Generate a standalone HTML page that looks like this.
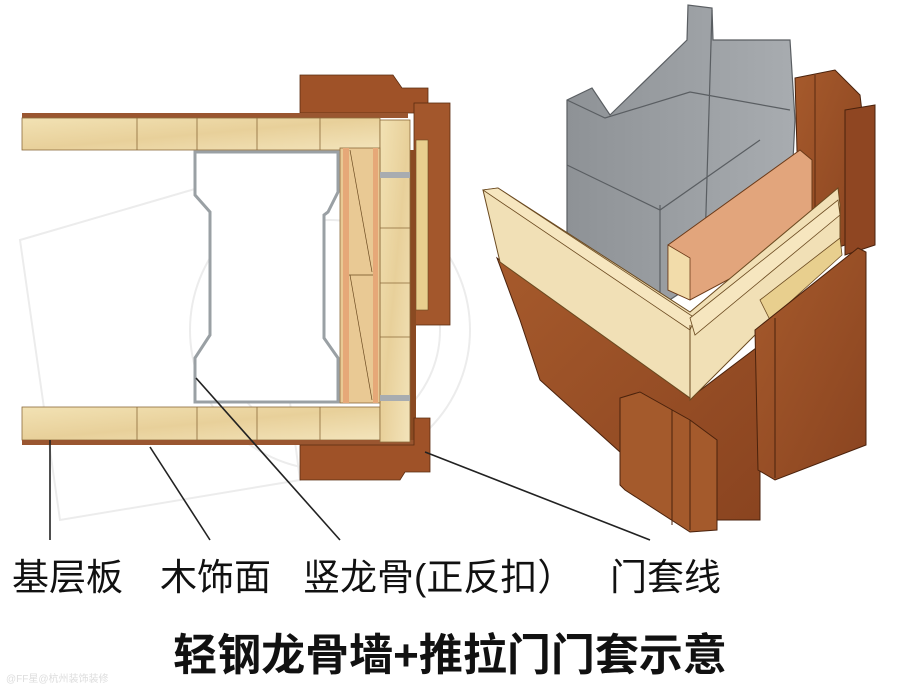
<!DOCTYPE html>
<html><head><meta charset="utf-8"><style>
html,body{margin:0;padding:0;background:#fff;width:900px;height:688px;overflow:hidden}
svg{display:block}
text{font-family:"Liberation Sans","Noto Sans CJK SC",sans-serif;fill:#111}
</style></head><body>
<svg width="900" height="688" viewBox="0 0 900 688" xmlns="http://www.w3.org/2000/svg">
<defs>
<linearGradient id="ply" x1="0" y1="0" x2="1" y2="1"><stop offset="0" stop-color="#f2e2b4"/><stop offset="0.5" stop-color="#e8d09a"/><stop offset="1" stop-color="#f3e4bb"/></linearGradient>
<linearGradient id="wood" x1="0" y1="0" x2="1" y2="1"><stop offset="0" stop-color="#a65a2c"/><stop offset="1" stop-color="#8a4420"/></linearGradient>
<linearGradient id="steel" x1="0" y1="0" x2="1" y2="0"><stop offset="0" stop-color="#8e9296"/><stop offset="1" stop-color="#a8acb0"/></linearGradient>
</defs>
<g stroke="#ececec" fill="none" stroke-width="2">
<circle cx="330" cy="330" r="140"/><circle cx="330" cy="330" r="110"/>
<path d="M20 240 L260 170 L300 480 L60 520 Z"/>
</g>

<!-- LEFT PLAN -->
<path d="M300 75 L393 75 L402 88 L428 88 L428 113 L300 113 Z" fill="#9f5228" stroke="#5a2c10" stroke-width="0.8"/>
<rect x="414" y="103" width="36" height="222" fill="#a3572c" stroke="#5a2c10" stroke-width="0.8"/>
<rect x="416" y="140" width="12" height="170" fill="#e8cf8e" stroke="#6b4a20" stroke-width="0.6"/>
<rect x="410" y="150" width="6" height="290" fill="#8a4a22"/>
<rect x="22" y="113" width="386" height="5" fill="#9a5630"/>
<rect x="22" y="118" width="358" height="32" fill="url(#ply)" stroke="#8b6a3a" stroke-width="0.8"/>
<g stroke="#8b6a3a" stroke-width="0.8"><line x1="137" y1="118" x2="137" y2="150"/><line x1="197" y1="118" x2="197" y2="150"/><line x1="257" y1="118" x2="257" y2="150"/><line x1="320" y1="118" x2="320" y2="150"/></g>
<rect x="22" y="407" width="358" height="33" fill="url(#ply)" stroke="#8b6a3a" stroke-width="0.8"/>
<g stroke="#8b6a3a" stroke-width="0.8"><line x1="137" y1="407" x2="137" y2="440"/><line x1="197" y1="407" x2="197" y2="440"/><line x1="257" y1="407" x2="257" y2="440"/><line x1="320" y1="407" x2="320" y2="440"/></g>
<rect x="22" y="440" width="392" height="5" fill="#9a5630"/>
<path d="M300 445 L414 445 L414 418 L430 418 L430 472 L405 472 L400 480 L300 480 Z" fill="#9f5228" stroke="#5a2c10" stroke-width="0.8"/>
<rect x="380" y="120" width="30" height="322" fill="url(#ply)" stroke="#8b6a3a" stroke-width="0.8"/>
<g stroke="#8b6a3a" stroke-width="0.8"><line x1="380" y1="228" x2="410" y2="228"/><line x1="380" y1="283" x2="410" y2="283"/><line x1="380" y1="337" x2="410" y2="337"/></g>
<rect x="340" y="148" width="40" height="255" fill="#e9c994" stroke="#8b6a3a" stroke-width="0.8"/>
<rect x="343" y="148" width="6" height="255" fill="#e6a878"/>
<rect x="373" y="148" width="5" height="255" fill="#e6a878"/>
<line x1="350" y1="150" x2="372" y2="272" stroke="#6b4a20" stroke-width="0.7"/>
<line x1="350" y1="275" x2="372" y2="400" stroke="#6b4a20" stroke-width="0.7"/>
<line x1="349" y1="275" x2="373" y2="275" stroke="#6b4a20" stroke-width="0.7"/>
<rect x="380" y="172" width="30" height="6" fill="#a8acb0"/><rect x="380" y="395" width="30" height="6" fill="#a8acb0"/>
<path d="M195 152 L338 152 L338 192 L328 212 L324 215 L324 338 L338 358 L338 402 L195 402 L195 358 L210 335 L210 212 L195 195 Z" fill="#fff" stroke="#9aa0a4" stroke-width="3"/>
<g stroke="#222" stroke-width="1.6" fill="none">
<line x1="50" y1="440" x2="50" y2="540"/>
<line x1="150" y1="447" x2="210" y2="540"/>
<line x1="196" y1="378" x2="340" y2="540"/>
<line x1="425" y1="452" x2="650" y2="540"/>
</g>

<!-- RIGHT 3D -->
<path d="M795 78 L835 70 L860 95 L862 112 L860 240 L800 260 Z" fill="url(#wood)" stroke="#4a220c" stroke-width="1"/>
<path d="M845 110 L875 105 L875 245 L845 255 Z" fill="#8f4622" stroke="#4a220c" stroke-width="1"/>
<line x1="815" y1="75" x2="815" y2="255" stroke="#5a2a10"/>
<path d="M567 100 L592 88 L610 115 L687 40 L688 5 L712 8 L713 40 L790 40 L795 120 L793 160 L700 280 L662 305 L600 255 L567 235 Z" fill="url(#steel)" stroke="#5a5e62" stroke-width="1.2"/>
<path d="M567 100 L605 118 L690 92 L790 110" fill="none" stroke="#5a5e62" stroke-width="1.2"/>
<path d="M567 165 L660 210 L760 140" fill="none" stroke="#5a5e62" stroke-width="1.2"/>
<line x1="712" y1="10" x2="705" y2="245" stroke="#5a5e62" stroke-width="1.2"/>
<line x1="660" y1="205" x2="660" y2="305" stroke="#5a5e62" stroke-width="1.2"/>
<path d="M668 245 L800 150 L812 160 L812 235 L690 300 L668 290 Z" fill="#e2a57c" stroke="#6b3a18" stroke-width="1"/>
<path d="M668 245 L690 258 L690 300 L668 290 Z" fill="#f2dcaa" stroke="#6b3a18" stroke-width="0.8"/>
<path d="M497 258 L690 398 L760 345 L760 520 L700 520 L640 470 L540 380 L520 320 Z" fill="url(#wood)" stroke="#4a220c" stroke-width="1"/>
<path d="M483 190 L498 188 L690 312 L838 188 L840 205 L840 250 L760 330 L690 400 L690 398 L500 262 Z" fill="#f1e0b6" stroke="#6b4a20" stroke-width="1"/>
<path d="M483 190 L498 188 L695 318 L690 330 Z" fill="#f6e6bf" stroke="#6b4a20" stroke-width="0.8"/>
<path d="M690 318 L838 200 L840 215 L695 335 Z" fill="#f6e6bf" stroke="#6b4a20" stroke-width="0.8"/>
<line x1="690" y1="325" x2="690" y2="400" stroke="#6b4a20"/>
<path d="M760 300 L840 238 L842 255 L770 320 Z" fill="#e8cf8e" stroke="#6b4a20" stroke-width="0.8"/>
<path d="M755 330 L858 248 L866 252 L866 445 L775 480 L758 470 Z" fill="url(#wood)" stroke="#4a220c" stroke-width="1"/>
<line x1="775" y1="318" x2="775" y2="478" stroke="#4a220c"/>
<path d="M620 398 L640 392 L690 420 L717 440 L717 530 L690 532 L625 490 L620 485 Z" fill="#a45a2c" stroke="#4a220c" stroke-width="1"/>
<line x1="672" y1="410" x2="672" y2="525" stroke="#4a220c"/>
<line x1="690" y1="420" x2="690" y2="530" stroke="#4a220c"/>

<!-- labels -->
<text x="12" y="590" font-size="37">基层板</text>
<text x="160" y="590" font-size="37">木饰面</text>
<text x="303" y="590" font-size="37">竖龙骨(正反扣）</text>
<text x="610" y="590" font-size="37">门套线</text>
<text x="450" y="670" font-size="44" font-weight="bold" text-anchor="middle">轻钢龙骨墙+推拉门门套示意</text>
<text x="6" y="682" font-size="10" style="fill:#ddd">@FF星@杭州装饰装修</text>
</svg>
</body></html>
